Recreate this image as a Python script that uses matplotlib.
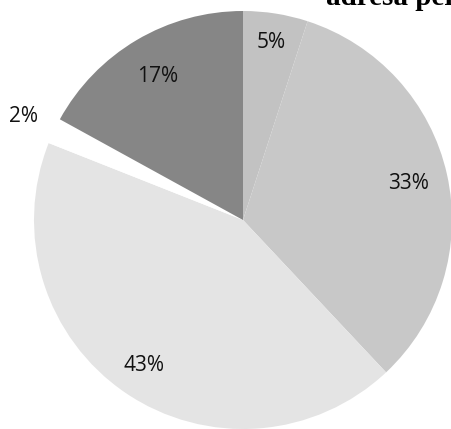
import numpy as np
import matplotlib
matplotlib.use("Agg")
import matplotlib.pyplot as plt

labels = ["5%", "33%", "43%", "2%", "17%"]
values = [5, 33, 43, 2, 17]
colors = ["#c2c2c2", "#c8c8c8", "#e4e4e4", "#ffffff", "#868686"]
label_dist = [0.86, 0.81, 0.84, 1.16, 0.80]
title = "adresa per"

W, H = 452, 429
fig = plt.figure(figsize=(W / 100, H / 100), dpi=100)
ax = fig.add_axes([0, 0, 1, 1])

cx, cy, R = 243, H - 220, 209
wedges, _ = ax.pie(values, colors=colors, startangle=90, counterclock=False,
                   center=(cx, cy), radius=R, frame=True,
                   wedgeprops=dict(linewidth=0))
ax.set_xlim(0, W)
ax.set_ylim(0, H)
ax.axis("off")

for w, lab, d in zip(wedges, labels, label_dist):
    ang = np.deg2rad((w.theta1 + w.theta2) / 2)
    x = cx + R * d * np.cos(ang)
    y = cy + R * d * np.sin(ang)
    ax.text(x, y, lab, ha="center", va="center", fontsize=15,
            family="Open Sans", color="#111111")

fig.text(326 / W, 1 - 5 / H, title, ha="left", va="baseline",
         fontsize=21, family="Liberation Serif", fontweight="bold")

fig.savefig("out.png", dpi=100)
